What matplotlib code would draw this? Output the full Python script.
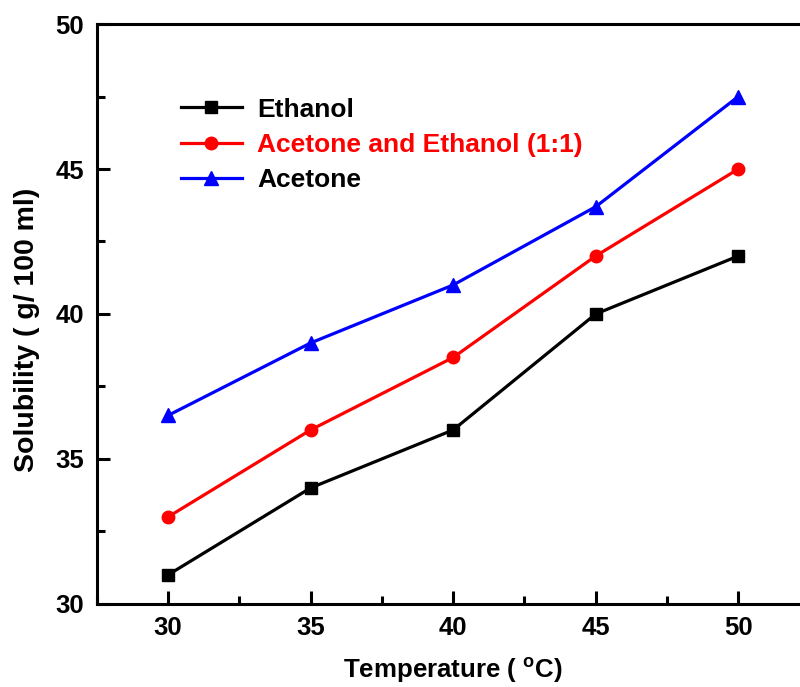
import matplotlib.pyplot as plt
from matplotlib.ticker import MultipleLocator

plt.rcParams['font.family'] = 'Liberation Sans'
plt.rcParams['font.weight'] = 'bold'
plt.rcParams['mathtext.fontset'] = 'custom'
plt.rcParams['mathtext.rm'] = 'Liberation Sans:bold'

# data
temperature = [30, 35, 40, 45, 50]
ethanol = [31, 34, 36, 40, 42]
mixture = [33, 36, 38.5, 42, 45]
acetone = [36.5, 39, 41, 43.7, 47.5]

fig = plt.figure(figsize=(8, 6.87), dpi=100)
# axes run past the right edge of the picture, as in the original
ax = fig.add_axes([0.121, 0.121, 0.891, 0.844])

ax.plot(temperature, ethanol, color='black', lw=2.3, marker='s', ms=8.5, label='Ethanol')
ax.plot(temperature, mixture, color='red', lw=2.3, marker='o', ms=9, label='Acetone and Ethanol (1:1)')
ax.plot(temperature, acetone, color='blue', lw=2.3, marker='^', ms=9.5, label='Acetone')

ax.set_xlim(27.5, 52.5)
ax.set_ylim(30, 50)
ax.xaxis.set_major_locator(MultipleLocator(5))
ax.xaxis.set_minor_locator(MultipleLocator(2.5))
ax.yaxis.set_major_locator(MultipleLocator(5))
ax.yaxis.set_minor_locator(MultipleLocator(2.5))
ax.tick_params(which='both', direction='in', width=2.2, labelsize=18.5, pad=9)
ax.tick_params(which='major', length=9.5)
ax.tick_params(which='minor', length=5.5)

for s in ax.spines.values():
    s.set_linewidth(2.2)

ax.set_xlabel('Temperature ( $^\\mathrm{o}$C)', fontsize=18.6, fontweight='bold', labelpad=11)
ax.set_ylabel('Solubility ( g/ 100 ml)', fontsize=20.5, fontweight='bold')
ax.yaxis.set_label_coords(-0.079, 0.472)

leg = ax.legend(loc='upper left', bbox_to_anchor=(0.118, 0.873), frameon=False, fontsize=19,
                borderpad=0, borderaxespad=0, handlelength=2.3, labelspacing=0.43,
                handletextpad=0.6)
for t, c in zip(leg.get_texts(), ['black', 'red', 'black']):
    t.set_color(c)

plt.savefig('out.png', dpi=100)
